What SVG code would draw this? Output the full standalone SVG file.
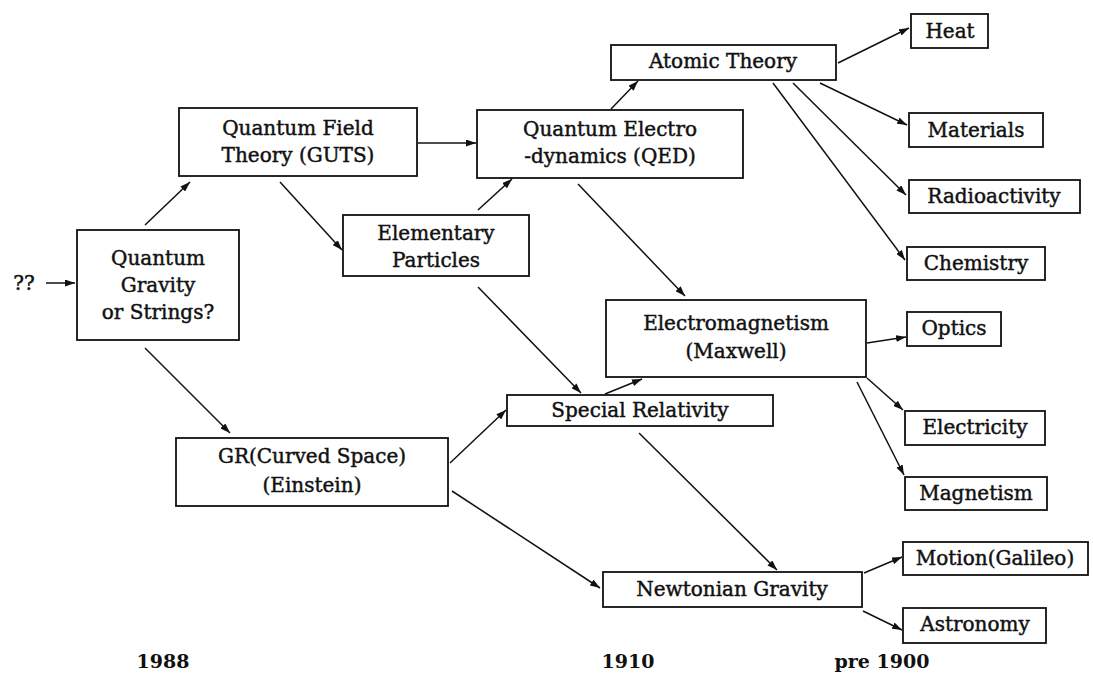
<svg xmlns="http://www.w3.org/2000/svg" width="1093" height="677" viewBox="0 0 1093 677">
<style>
.box{fill:#fff;stroke:#111;stroke-width:1.8}
.t{font-family:"DejaVu Serif","Liberation Serif",serif;font-size:20px;fill:#111;stroke:#111;stroke-width:0.45;text-anchor:middle}
.y{font-family:"DejaVu Serif","Liberation Serif",serif;font-size:19px;font-weight:bold;fill:#111;text-anchor:middle}
.c{fill:none;stroke:#111;stroke-width:1.5;marker-end:url(#ah)}
</style>
<defs>
<marker id="ah" markerUnits="userSpaceOnUse" markerWidth="10" markerHeight="7" refX="10" refY="3.5" orient="auto">
<path d="M0,0 L10,3.5 L0,7 z" fill="#111"/>
</marker>
</defs>
<rect width="1093" height="677" fill="#fff"/>
<g id="connectors">
<line class="c" x1="46" y1="283" x2="75" y2="283"/>
<line class="c" x1="145" y1="225" x2="190" y2="182"/>
<line class="c" x1="280" y1="182" x2="342" y2="250"/>
<line class="c" x1="418" y1="143" x2="476" y2="143"/>
<line class="c" x1="478" y1="210" x2="512" y2="179"/>
<line class="c" x1="611" y1="109" x2="638" y2="81"/>
<line class="c" x1="578" y1="184" x2="685" y2="296"/>
<line class="c" x1="838" y1="63" x2="909" y2="28"/>
<line class="c" x1="820" y1="83" x2="907" y2="125"/>
<line class="c" x1="793" y1="83" x2="906" y2="195"/>
<line class="c" x1="773" y1="83" x2="905" y2="260"/>
<line class="c" x1="478" y1="287" x2="581" y2="393"/>
<line class="c" x1="605" y1="394" x2="642" y2="379"/>
<line class="c" x1="450" y1="463" x2="506" y2="410"/>
<line class="c" x1="452" y1="491" x2="600" y2="588"/>
<line class="c" x1="145" y1="348" x2="230" y2="433"/>
<line class="c" x1="639" y1="433" x2="777" y2="570"/>
<line class="c" x1="867" y1="343" x2="906" y2="337"/>
<line class="c" x1="867" y1="378" x2="903" y2="410"/>
<line class="c" x1="857" y1="382" x2="904" y2="475"/>
<line class="c" x1="864" y1="573" x2="902" y2="557"/>
<line class="c" x1="863" y1="611" x2="902" y2="630"/>
</g>
<text class="t" x="24" y="290">??</text>
<g id="qg"><rect class="box" x="77" y="230" width="162" height="110"/>
<text class="t" x="158" y="265">Quantum</text><text class="t" x="158" y="292">Gravity</text><text class="t" x="158" y="319">or Strings?</text></g>
<g id="qft"><rect class="box" x="179" y="108" width="238" height="68"/>
<text class="t" x="298" y="135">Quantum Field</text><text class="t" x="298" y="162">Theory (GUTS)</text></g>
<g id="qed"><rect class="box" x="477" y="110" width="266" height="68"/>
<text class="t" x="610" y="136">Quantum Electro</text><text class="t" x="610" y="163">-dynamics (QED)</text></g>
<g id="ep"><rect class="box" x="343" y="215" width="186" height="61"/>
<text class="t" x="436" y="240">Elementary</text><text class="t" x="436" y="267">Particles</text></g>
<g id="at"><rect class="box" x="611" y="45" width="225" height="35"/>
<text class="t" x="723" y="68">Atomic Theory</text></g>
<g id="heat"><rect class="box" x="911" y="14" width="77" height="34"/>
<text class="t" x="950" y="38">Heat</text></g>
<g id="mat"><rect class="box" x="909" y="113" width="134" height="34"/>
<text class="t" x="976" y="137">Materials</text></g>
<g id="rad"><rect class="box" x="909" y="180" width="171" height="33"/>
<text class="t" x="994" y="203">Radioactivity</text></g>
<g id="chem"><rect class="box" x="907" y="247" width="138" height="33"/>
<text class="t" x="976" y="270">Chemistry</text></g>
<g id="em"><rect class="box" x="606" y="300" width="260" height="77"/>
<text class="t" x="736" y="330">Electromagnetism</text><text class="t" x="736" y="358">(Maxwell)</text></g>
<g id="opt"><rect class="box" x="907" y="312" width="94" height="34"/>
<text class="t" x="954" y="335">Optics</text></g>
<g id="elec"><rect class="box" x="905" y="411" width="140" height="34"/>
<text class="t" x="975" y="434">Electricity</text></g>
<g id="mag"><rect class="box" x="905" y="477" width="142" height="33"/>
<text class="t" x="976" y="500">Magnetism</text></g>
<g id="mot"><rect class="box" x="903" y="542" width="185" height="33"/>
<text class="t" x="995" y="565">Motion(Galileo)</text></g>
<g id="ast"><rect class="box" x="903" y="608" width="143" height="35"/>
<text class="t" x="975" y="631">Astronomy</text></g>
<g id="ng"><rect class="box" x="603" y="572" width="259" height="35"/>
<text class="t" x="732" y="596">Newtonian Gravity</text></g>
<g id="sr"><rect class="box" x="507" y="395" width="266" height="31"/>
<text class="t" x="640" y="417">Special Relativity</text></g>
<g id="gr"><rect class="box" x="176" y="438" width="272" height="68"/>
<text class="t" x="312" y="463">GR(Curved Space)</text><text class="t" x="312" y="492">(Einstein)</text></g>
<text class="y" x="163" y="668">1988</text>
<text class="y" x="628" y="668">1910</text>
<text class="y" x="882" y="668">pre 1900</text>
</svg>
